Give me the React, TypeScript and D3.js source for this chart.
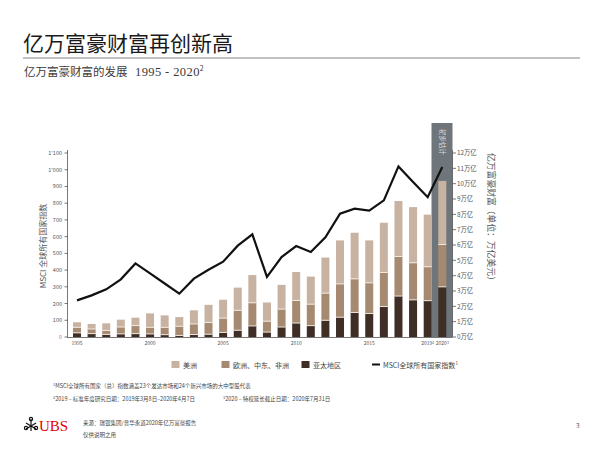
import React from "react";
import * as d3 from "d3";

const years = ["1995","1996","1997","1998","1999","2000","2001","2002","2003","2004","2005","2006","2007","2008","2009","2010","2011","2012","2013","2014","2015","2016","2017","2018","2019P","2020P"];
const asiaPacific = [0.27,0.22,0.17,0.2,0.22,0.2,0.15,0.1,0.16,0.18,0.3,0.44,0.72,0.32,0.65,0.91,0.74,1.09,1.29,1.6,1.53,1.99,2.67,2.42,2.37,3.27];
const emea = [0.36,0.3,0.26,0.45,0.52,0.43,0.48,0.6,0.69,0.77,0.93,1.3,1.51,0.71,1.17,1.47,1.4,1.77,2.17,2.19,2.0,2.22,2.58,2.42,2.21,2.76];
const americas = [0.33,0.33,0.46,0.48,0.52,0.91,0.78,0.6,0.89,1.15,1.2,1.48,1.81,1.22,1.58,1.86,1.8,2.32,2.84,3.01,2.77,3.24,3.62,3.63,3.4,4.15];
const msci = [219,249,285,345,440,380,320,259,349,402,450,546,614,359,478,544,508,596,737,767,755,817,1020,926,836,1016];
const xTickLabels = ["1995","2000","2005","2010","2015","2019P","2020P"];
const leftTicks = [0,100,200,300,400,500,600,700,800,900,1000,1100];
const rightTicks = [0,1,2,3,4,5,6,7,8,9,10,11,12];
const seriesNames = ["美洲", "欧洲、中东、非洲", "亚太地区"];
const lineName = "MSCI全球所有国家指数";

const COL_LIGHT = "#c8b2a2";
const COL_MID = "#a68971";
const COL_DARK = "#3e2e26";
const FONT = "'Noto Sans CJK SC', 'Noto Sans', sans-serif";

export default function App() {
  const x = d3.scalePoint<string>().domain(years).range([77, 442.3]);
  const yR = d3.scaleLinear().domain([0, 12]).range([337, 153]);
  const yL = d3.scaleLinear().domain([0, 1100]).range([337, 153]);
  const bw = 8;
  const lineGen = d3.line<number>()
    .x((_, i) => x(years[i]) as number)
    .y((d) => yL(d));
  const fmtLeft = (v: number) => (v >= 1000 ? "1'" + String(v - 1000).padStart(3, "0") : String(v));

  return (
    <svg width={600} height={451} style={{ position: "absolute", left: 0, top: 0, background: "#fff" }} fontFamily={FONT}>
      {/* Title */}
      <text x={23} y={51} fontSize={21} fill="#1a1a1a">亿万富豪财富再创新高</text>
      <line x1={23} x2={580} y1={58} y2={58} stroke="#666" strokeWidth={0.8} />
      <text x={24} y={76} fontSize={11.5} fill="#3a3a3a">亿万富豪财富的发展
        <tspan x={135} fontFamily="'Liberation Serif', serif" fontSize={12.5} letterSpacing={0.4}>1995 - 2020</tspan>
        <tspan fontSize={7} dy={-5}>2</tspan>
      </text>

      {/* forecast box */}
      <rect x={431.5} y={123} width={21} height={214} fill="#6f767b" />
      <text transform="translate(439.5,129) rotate(90)" fontSize={6.5} fill="#dcdcdc">初步估计</text>

      {/* bars */}
      {years.map((yr, i) => {
        const cx = x(yr) as number;
        const a = asiaPacific[i], e = emea[i], m = americas[i];
        return (
          <g key={yr}>
            <rect x={cx - bw / 2} y={yR(a)} width={bw} height={yR(0) - yR(a)} fill={COL_DARK} />
            <rect x={cx - bw / 2} y={yR(a + e)} width={bw} height={yR(a) - yR(a + e)} fill={COL_MID} />
            <rect x={cx - bw / 2} y={yR(a + e + m)} width={bw} height={yR(a + e) - yR(a + e + m)} fill={COL_LIGHT} />
            <line x1={cx - bw / 2} x2={cx + bw / 2} y1={yR(a)} y2={yR(a)} stroke="#f6efe7" strokeWidth={0.9} />
            <line x1={cx - bw / 2} x2={cx + bw / 2} y1={yR(a + e)} y2={yR(a + e)} stroke="#f6efe7" strokeWidth={0.9} />
          </g>
        );
      })}

      {/* MSCI line */}
      <path d={lineGen(msci) || ""} fill="none" stroke="#111" strokeWidth={2.2} strokeLinejoin="miter" />

      {/* axes */}
      <line x1={67.5} x2={67.5} y1={150} y2={337} stroke="#555" strokeWidth={0.8} />
      <line x1={67} x2={452.5} y1={337.5} y2={337.5} stroke="#777" strokeWidth={1} />
      <line x1={452.5} x2={452.5} y1={150} y2={337} stroke="#555" strokeWidth={0.8} />
      {leftTicks.map((t) => (
        <g key={"l" + t}>
          <line x1={64.5} x2={67.5} y1={yL(t)} y2={yL(t)} stroke="#555" strokeWidth={0.8} />
          <text x={62} y={yL(t) + 2} fontSize={5.5} textAnchor="end" fill={t === 0 ? "#d07070" : "#555"}>{fmtLeft(t)}</text>
        </g>
      ))}
      {rightTicks.map((t) => (
        <g key={"r" + t}>
          <line x1={452.5} x2={456} y1={yR(t)} y2={yR(t)} stroke="#555" strokeWidth={0.8} />
          <text x={457} y={yR(t) + 2.2} fontSize={6.3} fill="#555">{t}万亿</text>
        </g>
      ))}
      {xTickLabels.map((lbl) => (
        <text key={lbl} x={x(lbl) as number} y={345} fontSize={5} textAnchor="middle" fill="#555">
          {lbl.replace("P", "")}{lbl.endsWith("P") ? <tspan fontSize={3.5} dy={-1.5}>{lbl === "2019P" ? "2" : "3"}</tspan> : null}
        </text>
      ))}
      <text transform="translate(46,246) rotate(-90)" fontSize={8} textAnchor="middle" fill="#555">MSCI 全球所有国家指数</text>
      <text transform="translate(488,153) rotate(90)" fontSize={8.8} fill="#555">亿万富豪财富（单位：万亿美元）</text>

      {/* legend */}
      <rect x={171.5} y={361} width={8} height={7} fill={COL_LIGHT} />
      <text x={183} y={367.5} fontSize={7} fill="#444">{seriesNames[0]}</text>
      <rect x={221.5} y={361} width={8} height={7} fill={COL_MID} />
      <text x={233} y={367.5} fontSize={7} fill="#444">{seriesNames[1]}</text>
      <rect x={301.5} y={361} width={8} height={7} fill={COL_DARK} />
      <text x={313} y={367.5} fontSize={7} fill="#444">{seriesNames[2]}</text>
      <line x1={372} x2={380} y1={364.5} y2={364.5} stroke="#111" strokeWidth={2} />
      <text x={383} y={367.5} fontSize={7} fill="#444">{lineName}<tspan fontSize={4.5} dy={-3}>1</tspan></text>

      {/* footnotes */}
      <text x={53} y={387.5} fontSize={5.5} fill="#444"><tspan fontSize={4} dy={-2}>1</tspan><tspan dy={2}>MSCI全球所有国家（总）指数涵盖23个发达市场和24个新兴市场的大中型股代表</tspan></text>
      <text x={53} y={400.5} fontSize={5.5} fill="#444"><tspan fontSize={4} dy={-2}>2</tspan><tspan dy={2}>2019 – 标准年度研究日期：2019年3月8日–2020年4月7日</tspan></text>
      <text x={223} y={400.5} fontSize={5.5} fill="#444"><tspan fontSize={4} dy={-2}>3</tspan><tspan dy={2}>2020 – 特权延长截止日期：2020年7月31日</tspan></text>

      {/* UBS logo */}
      <g stroke="#111" strokeWidth={1.2} fill="none">
        <line x1={31} x2={31} y1={419} y2={431} />
        <line x1={26} x2={36} y1={423} y2={429} />
        <line x1={36} x2={26} y1={423} y2={429} />
        <circle cx={31} cy={419} r={1.6} />
        <circle cx={26} cy={428} r={1.6} />
        <circle cx={36} cy={428} r={1.6} />
      </g>
      <text x={39} y={431} fontSize={15} fill="#e60000" fontFamily="'Liberation Serif', serif">UBS</text>
      <text x={83} y={425} fontSize={5.5} fill="#444">来源：瑞银集团/普华永道2020年亿万富豪报告</text>
      <text x={83} y={437} fontSize={5.5} fill="#444">仅供说明之用</text>
      <text x={576} y={428} fontSize={6.5} fill="#555">3</text>
    </svg>
  );
}
